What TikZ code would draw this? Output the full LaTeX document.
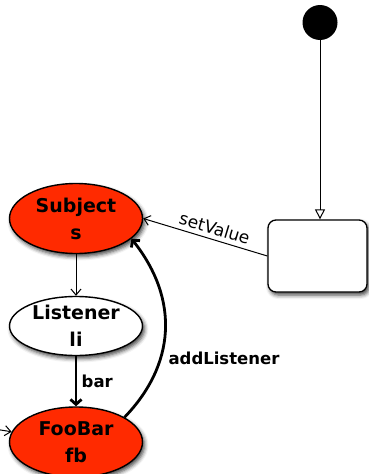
\documentclass[tikz,border=0pt]{standalone}
\usepackage{fontspec}
\setmainfont{DejaVu Sans}
\usetikzlibrary{arrows.meta,shapes.geometric,shadows.blur}
\definecolor{objred}{HTML}{FF2A00}
\tikzset{
  obj/.style={ellipse, draw=black, line width=1.4pt, inner sep=0pt,
    minimum width=133pt, align=center,
    font=\bfseries\fontsize{19}{27}\selectfont,
    blur shadow={shadow xshift=2pt, shadow yshift=-3pt, shadow blur radius=4pt, shadow opacity=75}},
  stbox/.style={rectangle, rounded corners=8pt, draw=black, line width=1.3pt,
    fill=white, minimum width=99pt, minimum height=72pt, inner sep=0pt,
    blur shadow={shadow xshift=2pt, shadow yshift=-3pt, shadow blur radius=4pt, shadow opacity=75}},
  thinarr/.style={line width=1pt, -{Straight Barb[length=6pt, width=10pt]}},
  thickarr/.style={line width=2.8pt, -{Straight Barb[length=5pt, width=11pt]}},
  lbl/.style={font=\bfseries\fontsize{16.5}{18}\selectfont},
}
\begin{document}
\begin{tikzpicture}[x=1pt, y=-1pt]
  \useasboundingbox (0,0) rectangle (368,474);

  % initial pseudo-state and the state it enters
  \node (init) [circle, fill=black, minimum size=35pt, inner sep=0pt] at (320,22.5) {};
  \node (state) [stbox] at (317.5,256) {};
  \draw[line width=1pt, -{Triangle[open, length=10pt, width=10pt]}] (init) -- (state.north -| init);

  % objects
  \node (s)  [obj, fill=objred, minimum height=70pt] at (76,218.5) {Subject\\s};
  \node (li) [obj, fill=white,  minimum height=59pt] at (76,326)   {Listener\\li};
  \node (fb) [obj, fill=objred, minimum height=70pt] at (76,442)   {FooBar\\fb};

  % connectors
  \draw[thinarr] (s) -- (li);
  \draw[thickarr] (li) -- node[lbl, right, xshift=1pt] {bar} (fb);
  \draw[thickarr] (fb.27) .. controls (175,365) and (180,300) .. (s.-20);
  \node[lbl] at (224,358) {addListener};
  \draw[line width=1pt, {Straight Barb[length=6pt, width=10pt]}-] (s.east) --
    node[pos=0.55, sloped, above, font=\fontsize{17}{18}\selectfont, yshift=1pt] {setValue} (state.west);

  \coordinate (inc) at (-12,428);
  \draw[thinarr] (inc) -- (fb);
\end{tikzpicture}
\end{document}
